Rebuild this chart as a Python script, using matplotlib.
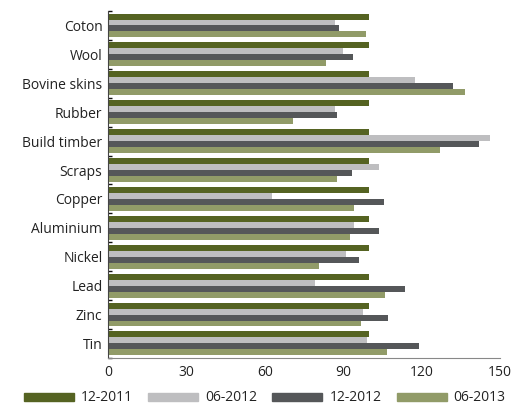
import numpy as np
import matplotlib
matplotlib.use('Agg')
import matplotlib.pyplot as plt
from matplotlib.patches import Patch

# categories, top to bottom
categories = ['Coton', 'Wool', 'Bovine skins', 'Rubber', 'Build timber', 'Scraps',
              'Copper', 'Aluminium', 'Nickel', 'Lead', 'Zinc', 'Tin']

series_names = ['12-2011', '06-2012', '12-2012', '06-2013']
s_2011_12 = [100, 100, 100, 100, 100, 100, 100, 100, 100, 100, 100, 100]
s_2012_06 = [87.1, 90.1, 117.7, 87.1, 146.4, 103.9, 62.9, 94.3, 91.2, 79.4, 97.7, 99.3]
s_2012_12 = [88.6, 93.9, 132.2, 87.5, 142.2, 93.5, 105.8, 103.9, 96.2, 113.6, 107.2, 119.1]
s_2013_06 = [98.8, 83.6, 136.8, 71.0, 127.3, 87.5, 94.3, 92.8, 80.9, 106.2, 96.9, 107.0]
series = [s_2011_12, s_2012_06, s_2012_12, s_2013_06]
colors = ['#556322', '#bebec0', '#555759', '#919b68']

plt.rcParams['font.family'] = ['Open Sans', 'DejaVu Sans']

fig = plt.figure(figsize=(5.19, 4.09), dpi=100)
ax = fig.add_axes([0.208, 0.125, 0.755, 0.848])

n = len(categories)
pos = np.arange(n)
h = 0.207
for i, (vals, c) in enumerate(zip(series, colors)):
    ax.barh(pos + (i - 1.5) * h, vals, height=h, color=c, label=series_names[i])

ax.set_ylim(n - 0.5, -0.5)
ax.set_xlim(0, 150)
ax.set_xticks(range(0, 151, 30))
ax.set_yticks(pos)
ax.set_yticklabels(categories)
ax.set_yticks(np.arange(n + 1) - 0.5, minor=True)
ax.tick_params(axis='y', which='major', length=0, labelsize=10, pad=4)
ax.tick_params(axis='y', which='minor', length=3, direction='in', color='#111111', width=1)
ax.tick_params(axis='x', length=0, labelsize=10, pad=5)
for lbl in ax.get_yticklabels() + ax.get_xticklabels():
    lbl.set_color('#222222')

ax.spines['top'].set_visible(False)
ax.spines['right'].set_visible(False)
ax.spines['left'].set_color('#444444')
ax.spines['bottom'].set_color('#888888')

handles = [Patch(color=c) for c in colors]
leg = fig.legend(handles, series_names, loc='lower center', ncol=4, frameon=False,
                 bbox_to_anchor=(0.51, -0.022), handlelength=3.6, handleheight=0.5,
                 columnspacing=1.1, handletextpad=0.5, fontsize=10)
for t in leg.get_texts():
    t.set_color('#222222')

fig.savefig('out.png', dpi=100)
